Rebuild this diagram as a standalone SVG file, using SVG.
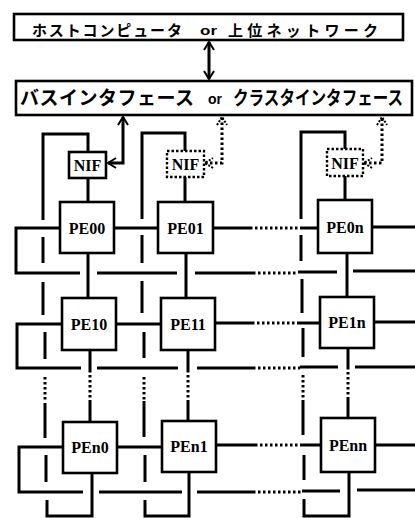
<svg xmlns="http://www.w3.org/2000/svg" width="415" height="518" viewBox="0 0 415 518">
<style>
.box{fill:#fff;stroke:#000;stroke-width:2.6}
.dbox{fill:#fff;stroke:#000;stroke-width:2.4;stroke-dasharray:2.5 2}
.ln{fill:none;stroke:#000;stroke-width:3}
.dt{fill:none;stroke:#000;stroke-width:3;stroke-dasharray:2.5 2.5}
.jp{font-family:"Noto Sans CJK JP",sans-serif;font-weight:bold;fill:#000}
.or{font-family:"Liberation Sans",sans-serif;font-weight:bold;fill:#000}
.pe{font-family:"Liberation Serif",serif;font-weight:bold;font-size:16px;fill:#000;text-anchor:middle}
</style>
<defs>
<marker id="ah" viewBox="0 0 10 12" refX="9" refY="6" markerWidth="10" markerHeight="12" markerUnits="userSpaceOnUse" orient="auto-start-reverse">
<path d="M1,1 L9,6 L1,11" fill="none" stroke="#000" stroke-width="2"/>
</marker>
<marker id="ahd" viewBox="0 0 10 12" refX="9" refY="6" markerWidth="10" markerHeight="12" markerUnits="userSpaceOnUse" orient="auto-start-reverse">
<path d="M1,1 L9,6 L1,11" fill="none" stroke="#000" stroke-width="2" stroke-dasharray="2 1.5"/>
</marker>
</defs>

<g id="connectors">
<path class="ln" d="M209,42 V79" marker-start="url(#ah)" marker-end="url(#ah)"/>
<path class="ln" d="M108,163 H123 V117" marker-start="url(#ah)" marker-end="url(#ah)"/>
<path class="dt" d="M205,163 H222 V117" marker-start="url(#ahd)" marker-end="url(#ahd)"/>
<path class="dt" d="M364,163 H382 V117" marker-start="url(#ahd)" marker-end="url(#ahd)"/>

<path class="ln" d="M88,152 V134 H43 V220"/>
<path class="ln" d="M43,237 V263 M43,282 V315 M45,332 V359 M45,403 V438 M46,455 V482 M47,500 V516 H92 V473"/>
<path class="dt" d="M45,377 V402"/>
<path class="ln" d="M88,178 V202 M88,253 V298 M90,350 V370 M90,400 V422"/>
<path class="dt" d="M90,370 V400"/>

<path class="ln" d="M185,151 V133 H142 V219"/>
<path class="ln" d="M142,235 V263 M142,281 V313 M144,332 V358 M144,401 V437 M145,455 V482 M145,500 V516 H189 V472"/>
<path class="dt" d="M144,377 V400"/>
<path class="ln" d="M185,177 V202 M186,253 V298 M188,350 V370 M188,400 V421"/>
<path class="dt" d="M188,370 V400"/>

<path class="ln" d="M345,149 V132 H301 V219"/>
<path class="ln" d="M301,235 V261 M302,279 V313 M303,328 V357 M303,400 V435 M304,455 V480 M304,499 V516 H349 V472"/>
<path class="dt" d="M303,375 V400"/>
<path class="ln" d="M345,176 V200 M347,253 V297 M348,348 V367 M348,397 V418"/>
<path class="dt" d="M348,367 V397"/>

<path class="ln" d="M60,228 H16 V273 H80 M97,273 H177 M195,273 H253 M298,272 H337 M353,271 H415"/>
<path class="dt" d="M253,273 H298"/>
<path class="ln" d="M114,228 H158 M213,228 H250 M300,228 H318 M372,227 H415"/>
<path class="dt" d="M250,228 H300"/>

<path class="ln" d="M62,324 H17 V368 H81 M97,368 H178 M197,368 H253 M300,367 H338 M355,367 H415"/>
<path class="dt" d="M253,368 H300"/>
<path class="ln" d="M116,324 H161 M215,323 H252 M298,323 H320 M374,322 H415"/>
<path class="dt" d="M252,323 H298"/>

<path class="ln" d="M63,447 H19 V492 H83 M99,492 H182 M197,492 H253 M302,491 H340 M357,490 H415"/>
<path class="dt" d="M253,492 H302"/>
<path class="ln" d="M117,447 H162 M216,445 H255 M300,445 H321 M375,445 H415"/>
<path class="dt" d="M255,445 H300"/>
</g>

<g id="host">
<rect class="box" x="14" y="14" width="389" height="26"/>
<text class="jp" x="32" y="36" font-size="15" textLength="150" lengthAdjust="spacing">ホストコンピュータ</text>
<text class="or" x="200" y="35" font-size="13" textLength="17" lengthAdjust="spacingAndGlyphs">or</text>
<text class="jp" x="228" y="36" font-size="15" textLength="150" lengthAdjust="spacing">上位ネットワーク</text>
</g>

<g id="bus">
<rect class="box" x="16" y="81" width="396" height="34"/>
<text class="jp" x="20" y="105" font-size="19" textLength="174" lengthAdjust="spacing">バスインタフェース</text>
<text class="or" x="208" y="104" font-size="14" textLength="14" lengthAdjust="spacingAndGlyphs">or</text>
<text class="jp" transform="translate(233,105) scale(0.82,1)" x="0" y="0" font-size="19">クラスタインタフェース</text>
</g>

<g id="NIF00"><rect class="box" x="69" y="152" width="37" height="26"/><text class="pe" x="87.5" y="171">NIF</text></g>
<g id="NIF01"><rect class="dbox" x="167" y="151" width="37" height="26"/><text class="pe" x="185.5" y="170">NIF</text></g>
<g id="NIF0n"><rect class="dbox" x="327" y="149" width="36" height="27"/><text class="pe" x="345" y="169">NIF</text></g>

<g id="PE00"><rect class="box" x="60" y="202" width="54" height="51"/><text class="pe" x="87" y="234">PE00</text></g>
<g id="PE01"><rect class="box" x="158" y="202" width="55" height="51"/><text class="pe" x="185.5" y="234">PE01</text></g>
<g id="PE0n"><rect class="box" x="318" y="200" width="54" height="53"/><text class="pe" x="345" y="233">PE0n</text></g>

<g id="PE10"><rect class="box" x="62" y="298" width="54" height="52"/><text class="pe" x="89" y="330">PE10</text></g>
<g id="PE11"><rect class="box" x="161" y="298" width="54" height="52"/><text class="pe" x="188" y="330">PE11</text></g>
<g id="PE1n"><rect class="box" x="320" y="297" width="54" height="51"/><text class="pe" x="347" y="328">PE1n</text></g>

<g id="PEn0"><rect class="box" x="63" y="422" width="54" height="51"/><text class="pe" x="90" y="453">PEn0</text></g>
<g id="PEn1"><rect class="box" x="162" y="421" width="54" height="51"/><text class="pe" x="189" y="452">PEn1</text></g>
<g id="PEnn"><rect class="box" x="321" y="418" width="54" height="54"/><text class="pe" x="348" y="451">PEnn</text></g>
</svg>
